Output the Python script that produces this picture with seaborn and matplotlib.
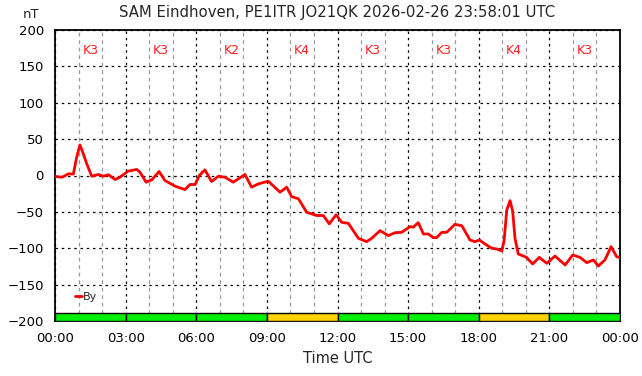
import matplotlib
matplotlib.use("Agg")
import matplotlib.pyplot as plt
import seaborn as sns
import numpy as np
import pandas as pd

# ---- data ----
hours = [0.0, 0.31, 0.57, 0.78, 0.92, 1.06, 1.2, 1.35, 1.56, 1.84, 2.05, 2.27, 2.55, 2.76,
         3.11, 3.47, 3.61, 3.87, 4.11, 4.42, 4.67, 5.1, 5.52, 5.73, 5.95, 6.13, 6.37, 6.65,
         6.94, 7.22, 7.57, 8.07, 8.35, 8.64, 9.06, 9.56, 9.84, 10.05, 10.34, 10.69, 11.12,
         11.4, 11.65, 11.94, 12.18, 12.46, 12.89, 13.24, 13.45, 13.81, 14.16, 14.44, 14.72,
         15.08, 15.22, 15.43, 15.65, 15.86, 16.07, 16.21, 16.43, 16.64, 16.99, 17.28, 17.63,
         17.84, 18.03, 18.27, 18.55, 18.77, 18.98, 19.08, 19.19, 19.33, 19.44, 19.54, 19.68,
         20.03, 20.29, 20.57, 20.89, 21.24, 21.67, 21.99, 22.3, 22.59, 22.87, 23.08, 23.36,
         23.62, 23.86, 24.0]
by_nt = [-1.4, -2.3, 2.3, 2.0, 25, 42, 30, 16, -1, 1.4, -1, 1, -5.5, -2.3,
         6, 8.3, 4.6, -9.2, -6, 5.5, -6.9, -14.7, -19.3, -12.4, -12.4, 0, 7.8, -8.3,
         -1, -2.3, -9.2, 1.4, -16, -11.5, -7.8, -23, -16, -29, -32, -50.5, -55,
         -55, -66.5, -54, -64.4, -65.7, -86.4, -90.9, -86.4, -75.8, -82.7, -78.6, -78.2,
         -70.3, -71, -64.8, -80.4, -80.4, -85.4, -85.4, -78.1, -78.1, -67.1, -69, -88.7,
         -90.9, -88.7, -94.2, -100, -101, -103.8, -88.7, -47.4, -34.6, -49, -86.4, -107.9,
         -112.5, -121.6, -112.5, -120.7, -110.7, -123, -109.3, -112.5, -119.8, -116.1, -124.4, -116.1,
         -97.8, -111.6, -113]
k_start = [0, 3, 6, 9, 12, 15, 18, 21]
k_index = [3, 3, 2, 4, 3, 3, 4, 3]
x_ticks = [0, 3, 6, 9, 12, 15, 18, 21, 24]
x_labels = ["00:00", "03:00", "06:00", "09:00", "12:00", "15:00", "18:00", "21:00", "00:00"]
y_ticks = [-200, -150, -100, -50, 0, 50, 100, 150, 200]

sns.set_style("white")
plt.rcParams['font.family'] = ['DejaVu Sans']

fig = plt.figure(figsize=(6.42, 3.76), dpi=100)
ax = fig.add_axes([55/642, 1-321/376, 565/642, 291/376])

df = pd.DataFrame({"Time": hours, "By": by_nt})
sns.lineplot(data=df, x="Time", y="By", ax=ax, color="#ff0000", linewidth=2.0,
             label="By", zorder=5)

# K-index bars
kcolors = ["#ffd200" if k >= 4 else "#00f000" for k in k_index]
ax.bar(k_start, [10.5]*len(k_start), width=3, bottom=-200, align="edge",
       color=kcolors, edgecolor="black", linewidth=1.0, zorder=3)

for s, k in zip(k_start, k_index):
    ax.text(s + 1.5, 172, f"K{k}", color="#ff2020", ha="center", va="center",
            fontsize=9, zorder=6)

ax.set_xlim(0, 24)
ax.set_ylim(-200, 200)
ax.set_xticks(x_ticks)
ax.set_xticklabels(x_labels)
ax.set_xticks(np.arange(1, 24, 1), minor=True)
ax.set_yticks(y_ticks)
ax.tick_params(axis="both", which="both", length=0, labelsize=9.5, colors="black", pad=8)
ax.grid(True, which="major", color="black", linestyle=(0, (2, 3)), linewidth=0.9, zorder=4)
ax.grid(True, which="minor", axis="x", color="#999999", linestyle=(0, (3, 3)), linewidth=0.9)
ax.set_axisbelow(False)
for sp in ax.spines.values():
    sp.set_color("black")
    sp.set_linewidth(1.3)
    sp.set_visible(True)

ax.set_xlabel("Time UTC", fontsize=10.5, labelpad=4)
ax.set_ylabel("")
fig.text(31/642, 1-15/376, "nT", fontsize=9.5, ha="center", va="center")
fig.text(337/642, 1-12/376, "SAM Eindhoven, PE1ITR JO21QK 2026-02-26 23:58:01 UTC",
         fontsize=10.7, ha="center", va="center")

leg = ax.legend(loc="lower left", bbox_to_anchor=(0.028, 0.05), frameon=False,
                fontsize=8, handlelength=0.6, handletextpad=0.1, borderaxespad=0)

fig.savefig("out.png", dpi=100)
